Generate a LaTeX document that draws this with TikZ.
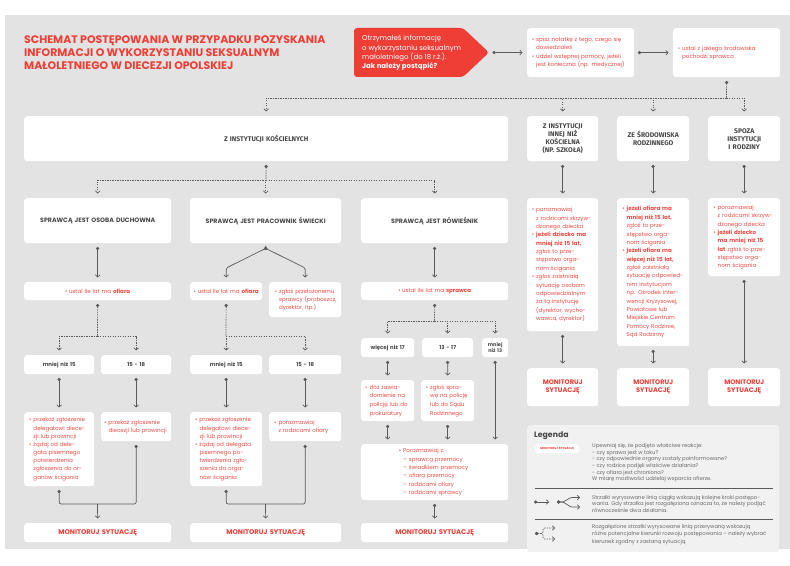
\documentclass[tikz,border=0pt]{standalone}
\usepackage{fontspec}
\setmainfont{Poppins}
\newfontfamily\cond{Fira Sans}
\usetikzlibrary{arrows.meta,positioning}

\definecolor{bgc}{RGB}{227,227,227}
\definecolor{lgc}{RGB}{241,241,241}
\definecolor{rd}{RGB}{238,62,54}
\definecolor{rdt}{RGB}{240,74,68}
\definecolor{dg}{RGB}{72,72,72}
\definecolor{lnc}{RGB}{90,90,90}
\definecolor{tg}{RGB}{105,105,105}

\newcommand\bul{\leavevmode\llap{\textbullet\hspace{2bp}}}
\newcommand\ibul{\textbullet\hspace{1.5bp}}

\begin{document}
\begin{tikzpicture}[x=1bp,y=-1bp,
    wh/.style 2 args={text width=#1bp, minimum height=#2bp},
    ind/.style={execute at begin node={\leftskip=#1bp}}]
  \tikzstyle{box}=[fill=white, rounded corners=3bp, anchor=north west, inner sep=0pt]
  \tikzstyle{hd}=[box, align=center, text=dg, font=\bfseries\fontsize{6.3}{8}\selectfont]
  \tikzstyle{kd}=[box, align=center, text=dg, font=\cond\bfseries\fontsize{6.8}{8}\selectfont]
  \tikzstyle{age}=[box, align=center, text=dg, font=\bfseries\fontsize{5.4}{7}\selectfont]
  \tikzstyle{txt}=[box, align=left, text=rdt, font=\fontsize{5.6}{8.4}\selectfont]
  \tikzstyle{mon}=[box, align=center, text=rd, font=\bfseries\fontsize{6.8}{8}\selectfont]
  \tikzstyle{leg}=[anchor=west, align=left, inner sep=0pt, text=tg]
  \tikzstyle{cline}=[draw=lnc, line width=0.7bp]
  \tikzstyle{tip}=[cline, {Circle[length=3.2bp]}-{Straight Barb[length=2.2bp,width=4.6bp]}]
  \tikzstyle{flow}=[tip, shorten <=3.5bp, shorten >=4.5bp]
  \tikzstyle{fend}=[cline, -{Straight Barb[length=2.2bp,width=4.6bp]}, shorten >=4.5bp]
  \tikzstyle{merge}=[cline, {Circle[length=3.2bp]}-{Circle[length=3.2bp]}, shorten <=3.5bp, shorten >=3.5bp, rounded corners=2bp]
  \tikzstyle{dtip}=[tip, dash pattern=on 1.3bp off 1.2bp]
  \tikzstyle{dbeg}=[cline, dash pattern=on 1.3bp off 1.2bp, {Circle[length=3.2bp]}-, shorten <=3.5bp]
  \tikzstyle{dend}=[cline, dash pattern=on 1.3bp off 1.2bp, -{Straight Barb[length=2.2bp,width=4.6bp]}, shorten >=4.5bp]

  \useasboundingbox (0,0) rectangle (790,566);
  \fill[bgc] (5,15) rectangle (790,549);

  \node[anchor=west, align=left, inner sep=0pt, text=rd, font=\bfseries\fontsize{11}{13}\selectfont] (T) at (24,53)
    {SCHEMAT POSTĘPOWANIA W PRZYPADKU POZYSKANIA\\INFORMACJI O WYKORZYSTANIU SEKSUALNYM\\MAŁOLETNIEGO W DIECEZJI OPOLSKIEJ};

  \fill[rd, rounded corners=3bp] (354,28) -- (463,28) -- (489,52.5) -- (463,77) -- (354,77) -- cycle;
  \coordinate (q) at (489,52.5);
  \node[anchor=west, align=left, inner sep=0pt, text=white, font=\fontsize{7}{9.3}\selectfont] (Q) at (362,53)
    {Otrzymałeś informację\\o wykorzystaniu seksualnym\\małoletniego (do 18 r.ż.).\\\textbf{Jak należy postąpić?}};
  \node[txt, wh={107}{49}, ind=9, font=\fontsize{5.6}{7.7}\selectfont] (B2) at (527,28)
    {\bul spisz notatkę z tego, czego się\\dowiedziałeś\\[1.8bp]\bul udziel wstępnej pomocy, jeżeli\\jest konieczna (np. medycznej)};
  \node[txt, wh={107}{49}, ind=9, font=\fontsize{5.6}{8}\selectfont] (B3) at (673,28)
    {\bul ustal z jakiego środowiska\\pochodzi sprawca};

  \node[kd, wh={484}{45}] (K) at (24,116) {Z INSTYTUCJI KOŚCIELNYCH};
  \node[kd, wh={71}{45}] (In) at (527,116) {Z INSTYTUCJI\\INNEJ NIŻ\\KOŚCIELNA\\(NP. SZKOŁA)};
  \node[kd, wh={72}{45}] (Rd) at (617,116) {ZE ŚRODOWISKA\\RODZINNEGO};
  \node[kd, wh={72}{45}] (Sp) at (708,116) {SPOZA\\INSTYTUCJI\\I RODZINY};

  \node[hd, wh={147}{45}] (D) at (24,198) {SPRAWCĄ JEST OSOBA DUCHOWNA};
  \node[hd, wh={151}{45}] (S) at (190,198) {SPRAWCĄ JEST PRACOWNIK ŚWIECKI};
  \node[hd, wh={147}{45}] (R) at (361,198) {SPRAWCĄ JEST RÓWIEŚNIK};

  \node[txt, wh={71}{133}, ind=9] (Ib) at (527,198)
    {\bul porozmawiaj\\z rodzicami skrzyw-\\dzonego dziecka\\\bul\textbf{jeżeli dziecko ma}\\\textbf{mniej niż 15 lat,}\\zgłoś to prze-\\stępstwo orga-\\nom ścigania\\\bul zgłoś zaistniałą\\sytuację osobom\\odpowiedzialnym\\za tą instytucję\\(dyrektor, wycho-\\wawca, dyrektor)};
  \node[txt, wh={72}{148}, ind=9.5] (Rb) at (617,198)
    {\bul\textbf{jeżeli ofiara ma}\\\textbf{mniej niż 15 lat,}\\zgłoś to prze-\\stępstwo orga-\\nom ścigania\\\bul\textbf{jeżeli ofiara ma}\\\textbf{więcej niż 15 lat,}\\zgłoś zaistniałą\\sytuację odpowied-\\nim instytucjom\\np. Ośrodek Inter-\\wencji Kryzysowej,\\Powiatowe lub\\Miejskie Centrum\\Pomocy Rodzinie,\\Sąd Rodzinny};
  \node[txt, wh={72}{78}, ind=9.5] (Sb) at (708,198)
    {\bul porozmawiaj\\z rodzicami skrzyw-\\dzonego dziecka\\\bul\textbf{jeżeli dziecko}\\\textbf{ma mniej niż 15}\\\textbf{lat} zgłoś to prze-\\stępstwo orga-\\nom ścigania};
  \node[mon, wh={71}{38}, font=\bfseries\fontsize{6.6}{8}\selectfont] (N1) at (527,368) {MONITORUJ\\SYTUACJĘ};
  \node[mon, wh={72}{38}, font=\bfseries\fontsize{6.6}{8}\selectfont] (N2) at (617,368) {MONITORUJ\\SYTUACJĘ};
  \node[mon, wh={72}{38}, font=\bfseries\fontsize{6.6}{8}\selectfont] (N3) at (708,368) {MONITORUJ\\SYTUACJĘ};

  \node[txt, wh={147}{18}, align=center] (D1) at (24,282) {\ibul ustal ile lat ma \textbf{ofiara}};
  \node[txt, wh={72}{18}, align=center] (S1) at (190,282) {\ibul ustal ile lat ma \textbf{ofiara}};
  \node[txt, wh={72}{35}, ind=10, font=\fontsize{5.6}{8.2}\selectfont] (S2) at (269,282)
    {\bul zgłoś przełożonemu\\sprawcy (proboszcz,\\dyrektor, itp.)};
  \node[txt, wh={147}{18}, align=center] (R1) at (361,282) {\ibul ustal ile lat ma \textbf{sprawca}};

  \node[age, wh={70}{19}] (E1) at (24,355) {mniej niż 15};
  \node[age, wh={70}{19}] (E2) at (101,355) {15 - 18};
  \node[age, wh={72}{19}] (E3) at (190,355) {mniej niż 15};
  \node[age, wh={72}{19}] (E4) at (269,355) {15 - 18};
  \node[age, wh={53}{19}] (G1) at (361,338) {więcej niż 17};
  \node[age, wh={51}{19}] (G2) at (422,338) {13 - 17};
  \node[age, wh={26}{19}, font=\bfseries\fontsize{5}{6.5}\selectfont] (G3) at (482,338) {mniej\\niż 13};

  \node[txt, wh={70}{74}, ind=9.3, font=\fontsize{5.6}{8.2}\selectfont] (F1) at (24,412)
    {\bul przekaż zgłoszenie\\delegatowi diece-\\zji lub prowincji\\\bul żądaj od dele-\\gata pisemnego\\potwierdzenia\\zgłoszenia do or-\\ganów ścigania};
  \node[txt, wh={70}{29}, ind=7.3, font=\fontsize{5.6}{8.2}\selectfont] (F2) at (101,412)
    {\bul przekaż zgłoszenie\\diecezji lub prowincji};
  \node[txt, wh={72}{74}, ind=9.3, font=\fontsize{5.6}{8.2}\selectfont] (F3) at (190,412)
    {\bul przekaż zgłoszenie\\delegatowi diece-\\zji lub prowincji\\\bul żądaj od delegata\\pisemnego po-\\twierdzenia zgło-\\szenia do orga-\\nów ścigania};
  \node[txt, wh={72}{29}, ind=9.3, font=\fontsize{5.6}{8.2}\selectfont] (F4) at (269,412)
    {\bul porozmawiaj\\z rodzicami ofiary};
  \node[txt, wh={53}{41}, ind=8.3, font=\fontsize{5.6}{8.6}\selectfont] (H1) at (361,380)
    {\bul złóż zawia-\\domienie na\\policję lub do\\prokuratury};
  \node[txt, wh={53}{41}, ind=9, font=\fontsize{5.6}{8.6}\selectfont] (H2) at (421,380)
    {\bul zgłoś spra-\\wę na policję\\lub do Sądu\\Rodzinnego};
  \node[txt, wh={147}{56}, ind=42] (H3) at (361,444)
    {\bul Porozmawiaj z:\\– sprawcą przemocy\\– świadkiem przemocy\\– ofiarą przemocy\\– rodzicami ofiary\\– rodzicami sprawcy};

  \node[mon, wh={147}{19}] (M1) at (24,523) {MONITORUJ SYTUACJĘ};
  \node[mon, wh={151}{19}] (M2) at (190,523) {MONITORUJ SYTUACJĘ};
  \node[mon, wh={147}{19}] (M3) at (361,523) {MONITORUJ SYTUACJĘ};

  \node[box, fill=lgc, minimum width=252bp, minimum height=127bp] (L) at (527,425) {};
  \node[anchor=west, inner sep=0pt, text=dg, font=\bfseries\fontsize{7.8}{9}\selectfont] (Lt) at (534,435.5) {Legenda};
  \node[box, wh={44}{9}, align=center, text=rd, font=\bfseries\fontsize{2.9}{3.5}\selectfont] (Lm) at (535,444) {MONITORUJ SYTUACJĘ};
  \node[leg, font=\fontsize{5.3}{6.65}\selectfont] (L1) at (592,462.7)
    {Upewniaj się, że podjęto właściwe reakcje:\\- czy sprawa jest w toku?\\- czy odpowiednie organy zostały poinformowane?\\- czy rodzice podjęli właściwe działania?\\- czy ofiara jest chroniona?\\W miarę możliwości udzielaj wsparcia ofierze.};
  \draw[lnc, line width=0.9bp] (535,488) -- (773,488);
  \coordinate (a1) at (534,502);
  \coordinate (a2) at (549,502);
  \draw[tip] (a1) -- (a2);
  \coordinate (b0) at (557,502);
  \coordinate (b1) at (580,497.5);
  \coordinate (b2) at (580,507);
  \draw[tip, rounded corners=1bp] (b0) -- ++(6,0) -- ++(8,-4.5) -- (b1);
  \draw[tip, rounded corners=1bp] (b0) -- ++(6,0) -- ++(8,5) -- (b2);
  \node[leg, font=\fontsize{5.3}{7}\selectfont] (L2) at (592,504)
    {Strzałki wyrysowane linią ciągłą wskazują kolejne kroki postępo-\\wania. Gdy strzałka jest rozgałęziona oznacza to, że należy podjąć\\równocześnie dwa działania.};
  \draw[lnc, line width=0.9bp] (535,519) -- (773,519);
  \coordinate (c0) at (535,533.5);
  \coordinate (c1) at (555,528);
  \coordinate (c2) at (555,539);
  \draw[dtip, rounded corners=1.5bp] (c0) -- ++(8,0) |- (c1);
  \draw[dtip, rounded corners=1.5bp] (c0) -- ++(8,0) |- (c2);
  \node[leg, font=\fontsize{5.3}{7.5}\selectfont] (L3) at (592,534.3)
    {Rozgałęzione strzałki wyrysowane linią przerywaną wskazują\\różne potencjalne kierunki rozwoju postępowania – należy wybrać\\kierunek zgodny z zastaną sytuacją.};

  \draw[flow] (q) -- (B2);
  \draw[flow] (B2) -- (B3);
  \coordinate (j0) at (726.5,98);
  \draw[dbeg] (B3.south) -- (j0);
  \draw[dend] (j0) -| (K.north);
  \draw[dend] (j0) -| (In.north);
  \draw[dend] (j0) -| (Rd.north);
  \draw[dend] (j0) -| (Sp.north);

  \coordinate (j1) at (266,180);
  \draw[dbeg] (K.south) -- (j1);
  \draw[dend] (j1) -| (D.north);
  \draw[dend] (j1) -| (S.north);
  \draw[dend] (j1) -| (R.north);

  \draw[flow] (In) -- (Ib);
  \draw[flow] (Rd) -- (Rb);
  \draw[flow] (Sp) -- (Sb);
  \draw[flow] (Ib) -- (N1);
  \draw[flow] (Rb) -- (N2);
  \draw[flow] (Sb) -- (N3);

  \draw[flow] (D) -- (D1);
  \coordinate (j2) at (0,268);
  \draw[flow, rounded corners=1.5bp] (S.south) -- ++(0,5) -- (S1.north |- j2) -- (S1.north);
  \draw[flow, rounded corners=1.5bp] (S.south) -- ++(0,5) -- (S2.north |- j2) -- (S2.north);
  \draw[flow] (R) -- (R1);

  \coordinate (j4) at (97.5,336);
  \draw[dbeg] (D1.south) -- (j4);
  \draw[dend] (j4) -| (E1.north);
  \draw[dend] (j4) -| (E2.north);
  \coordinate (j5) at (226,336);
  \draw[dbeg] (S1.south) -- (j5);
  \draw[dend] (j5) -| (E3.north);
  \draw[dend] (j5) -| (E4.north);
  \coordinate (j6) at (434.5,321);
  \draw[dbeg] (R1.south) -- (j6);
  \draw[dend] (j6) -| (G1.north);
  \draw[dend] (j6) -| (G2.north);
  \draw[dend] (j6) -| (G3.north);

  \draw[flow] (E1) -- (F1);
  \draw[flow] (E2) -- (F2);
  \draw[flow] (E3) -- (F3);
  \draw[flow] (E4) -- (F4);
  \draw[flow] (G1) -- (H1);
  \draw[flow] (G2) -- (H2);
  \draw[flow] (G3.south) -- (G3.south |- H3.north);
  \draw[flow] (H1.south) -- (H1.south |- H3.north);
  \draw[flow] (H2.south) -- (H2.south |- H3.north);

  \coordinate (j7) at (97.5,504);
  \draw[merge] (F1.south) |- (j7) -| (F2.south);
  \draw[fend] (j7) -- (M1.north);
  \coordinate (j8) at (265.5,504);
  \draw[merge] (F3.south) |- (j8) -| (F4.south);
  \draw[fend] (j8) -- (M2.north);
  \draw[flow] (H3) -- (M3);
\end{tikzpicture}
\end{document}
